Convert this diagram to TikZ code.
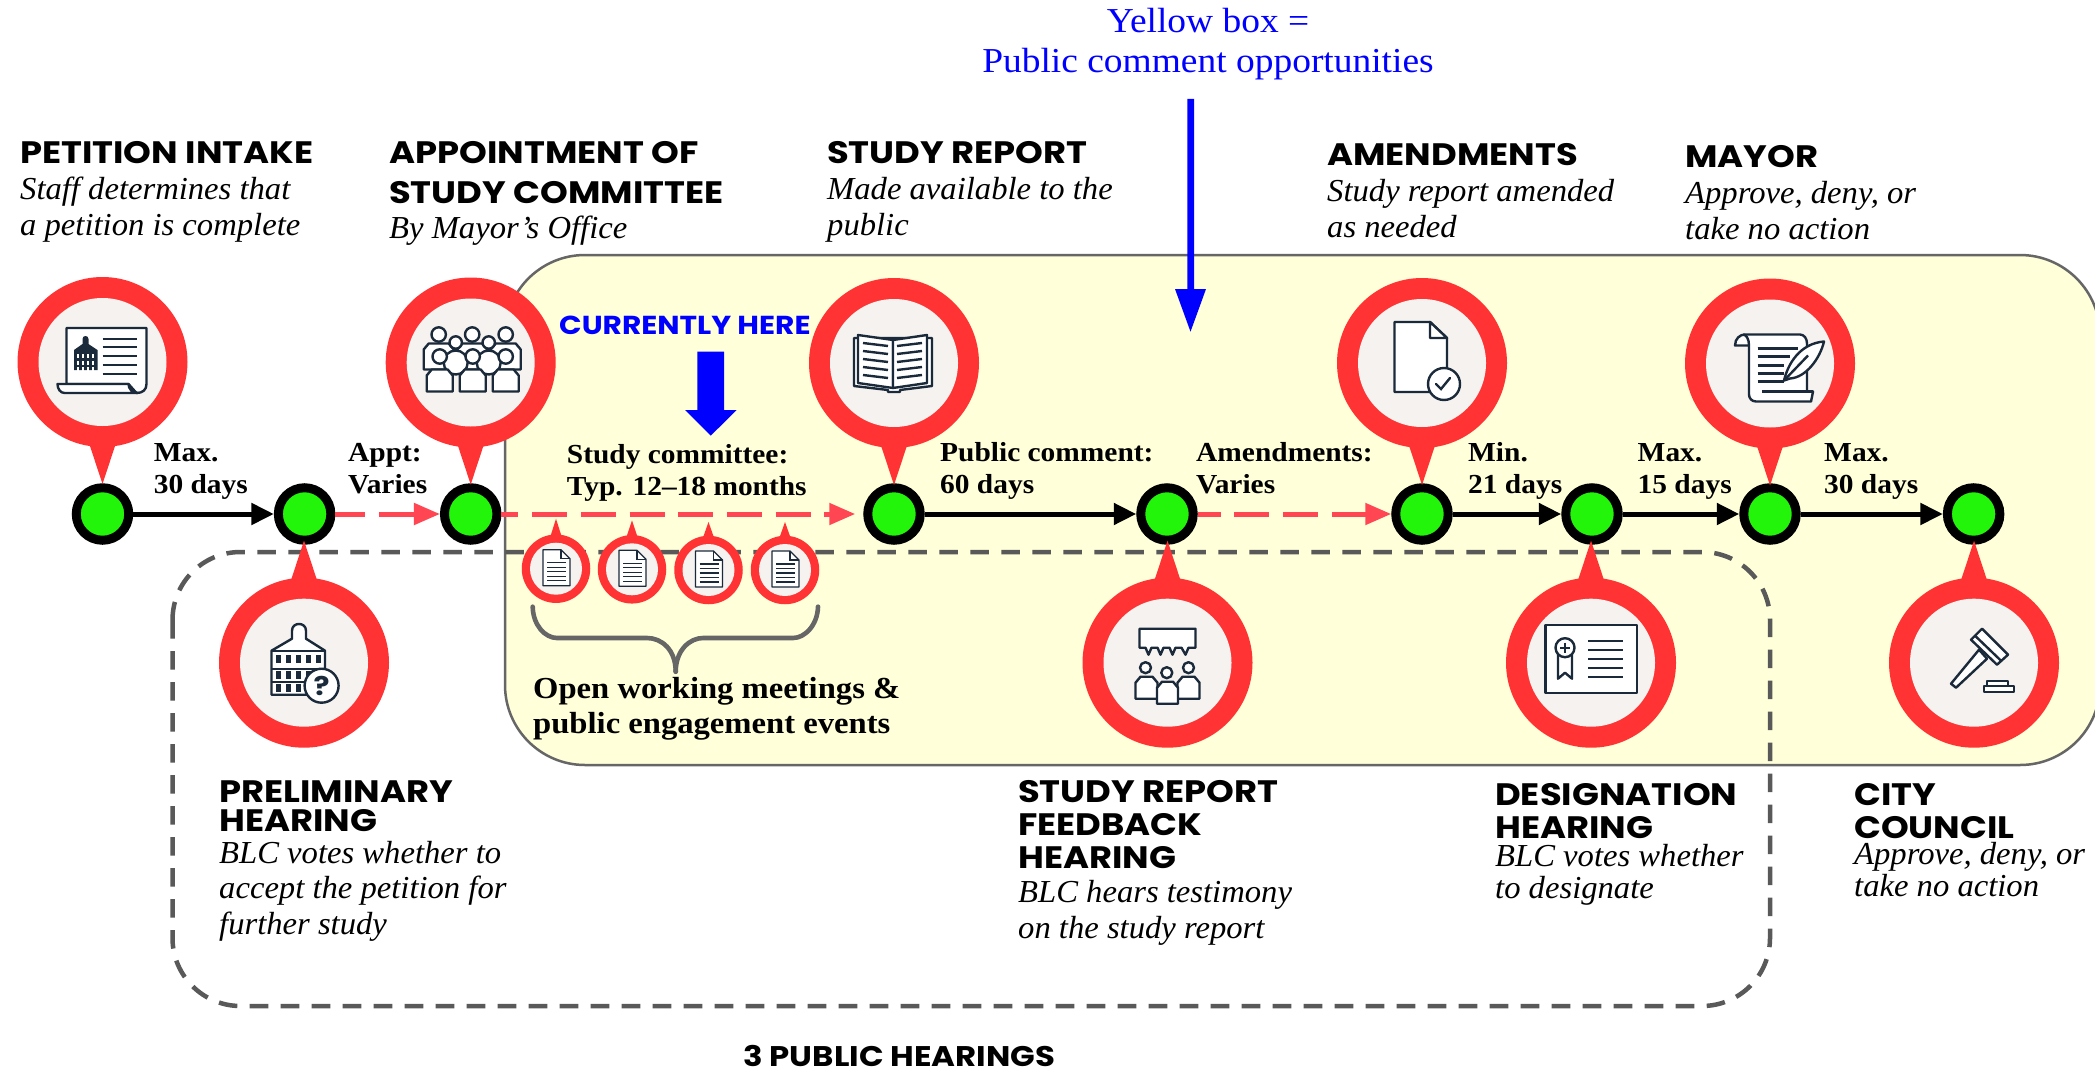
\documentclass[tikz,border=0pt]{standalone}
\usepackage{fontspec}
\usetikzlibrary{arrows.meta,calc}
\newfontfamily\srf[FakeStretch=1.02]{Liberation Serif}
\newfontfamily\srb[FakeStretch=1.07]{Liberation Serif}
\newfontfamily\hdf[FakeStretch=1.14]{Poppins}
\definecolor{pinred}{HTML}{FF3333}
\definecolor{pinin}{HTML}{F5F2EF}
\definecolor{dashred}{HTML}{FF4652}
\definecolor{nodegreen}{HTML}{22F50A}
\definecolor{yellowbg}{HTML}{FFFFDA}
\definecolor{graybd}{HTML}{666666}
\definecolor{graydash}{HTML}{595959}
\definecolor{icondark}{HTML}{1B2A3A}
\definecolor{pureblue}{HTML}{0000FF}
\tikzset{
 stage/.style={circle,draw=black,fill=nodegreen,line width=9pt,minimum size=52.5pt,inner sep=0pt},
 pinouter/.style={circle,fill=pinred,minimum size=170pt,inner sep=0pt},
 pininner/.style={circle,fill=pinin,minimum size=128pt,inner sep=0pt},
 minouter/.style={circle,fill=pinred,minimum size=68.5pt,inner sep=0pt},
 mininner/.style={circle,fill=pinin,minimum size=52pt,inner sep=0pt},
 solidarrow/.style={draw=black,line width=5pt,-{Triangle[length=22.5pt,width=21pt]}},
 redarrow/.style={draw=dashred,line width=5pt,dash pattern=on 35pt off 13.7pt,-{Triangle[length=26pt,width=21pt]}},
 ic/.style={draw=icondark,line width=2.4pt,fill=white,line join=round},
 icl/.style={draw=icondark,line width=2.4pt},
 title/.style={inner sep=0pt,anchor=base west,align=left,font=\hdf\bfseries\fontsize{31}{33}\selectfont,text=black},
 desc/.style={inner sep=0pt,anchor=base west,align=left,font=\srf\itshape\fontsize{32}{35.5}\selectfont,text=black},
 lbl/.style={inner sep=0pt,anchor=base west,align=left,font=\srb\bfseries\fontsize{27.5}{32}\selectfont,text=black},
}
\newcommand{\PinUp}[3]{\begin{scope}[shift={(#2,#3)}]
 \node[pinouter] (#1) at (0,0) {};
 \fill[pinred] (-14.5,78)--(0,122)--(14.5,78)--cycle;
 \node[pininner] (#1i) at (0,0) {};
\end{scope}}
\newcommand{\PinDown}[3]{\begin{scope}[shift={(#2,#3)}]
 \node[pinouter] (#1) at (0,0) {};
 \fill[pinred] (-14.5,-78)--(0,-122)--(14.5,-78)--cycle;
 \node[pininner] (#1i) at (0,0) {};
\end{scope}}
\newcommand{\MiniPin}[4]{\begin{scope}[shift={(#2,#3)}]
 \node[minouter] (#1) at (0,0) {};
 \fill[pinred] (-6,-31)--(0,-#4)--(6,-31)--cycle;
 \node[mininner] (#1i) at (0,0) {};
 \path[draw=icondark,line width=1.3pt,fill=white,line join=round] (-13,-19)--(5,-19)--(14,-10)--(14,17)--(-13,17)--cycle;
 \draw[icondark,line width=1.1pt] (5,-19)--(5,-10)--(14,-10);
 \foreach \yy in {-6,-1.5,3,7.5,12}{\draw[icondark,line width=1.3pt] (-9,\yy)--(10,\yy);}
\end{scope}}
\newcommand{\Person}[4]{% x,y(top of body),halfwidth,height
 \path[ic] (#1-#3,#2+#4)--(#1-#3,#2+6)--(#1-#3+5,#2)--(#1+#3-5,#2)--(#1+#3,#2+6)--(#1+#3,#2+#4)--cycle;}
\begin{document}
\begin{tikzpicture}[x=1pt,y=-1pt]
\useasboundingbox (0,0) rectangle (2095,1070);
\path[fill=white] (0,0) rectangle (2095,1070);
% yellow box (its right edge runs past the page)
\begin{scope}
\clip (0,0) rectangle (2095,1070);
\path[fill=yellowbg,draw=graybd,line width=2.5pt,rounded corners=80pt] (505,255) rectangle (2100,765);
\end{scope}
% dashed hearings box
\draw[graydash,line width=4.5pt,dash pattern=on 18.6pt off 12.4pt,rounded corners=68pt] (172.5,552) rectangle (1770,1006);
% stage nodes
\node[stage] (n1) at (102.5,514) {};
\node[stage] (n2) at (304.6,514) {};
\node[stage] (n3) at (470.7,514) {};
\node[stage] (n4) at (894,514) {};
\node[stage] (n5) at (1167,514) {};
\node[stage] (n6) at (1422,514) {};
\node[stage] (n7) at (1592,514) {};
\node[stage] (n8) at (1770,514) {};
\node[stage] (n9) at (1973.6,514) {};
% connectors
\draw[solidarrow] (n1) -- (n2);
\draw[redarrow,dash phase=5pt] (n2) -- (n3);
\draw[redarrow,dash phase=18pt,shorten >=8pt] (n3) -- (n4);
\draw[solidarrow] (n4) -- (n5);
\draw[redarrow,dash phase=12pt] (n5) -- (n6);
\draw[solidarrow] (n6) -- (n7);
\draw[solidarrow] (n7) -- (n8);
\draw[solidarrow] (n8) -- (n9);
% pins
\PinUp{p1}{102.5}{362}
\PinUp{p3}{470.7}{362.5}
\PinUp{p4}{894}{363}
\PinUp{p6}{1422}{363}
\PinUp{p8}{1770}{363.5}
\PinDown{p2}{304}{662.7}
\PinDown{p5}{1167.5}{662.7}
\PinDown{p7}{1591}{662.7}
\PinDown{p9}{1974}{662.7}
\MiniPin{m1}{556}{568.7}{50}
\MiniPin{m2}{632}{569.3}{49}
\MiniPin{m3}{708.5}{570}{48}
\MiniPin{m4}{785}{570}{48}
% icon p1: petition scroll
\begin{scope}[shift={(102.5,362)}]
 \path[ic] (-36,22)--(-36,-34)--(44,-34)--(44,22)..controls (44,28) and (40,31) .. (34,31)--(26,22)--cycle;
 \path[ic] (-45,22)--(26,22)..controls (26,27) and (30,31) .. (35,31)--(-38,31)..controls (-42,31) and (-45,27) .. (-45,22)--cycle;
 \fill[icondark] (-28.5,-12)--(-20,-18)--(-20,-23)..controls (-20,-27) and (-14,-27) .. (-14,-23)--(-14,-18)--(-5,-12)--(-5,8)--(-28.5,8)--cycle;
 \foreach \yy in {-8,-1,5}{\foreach \xx in {-26,-21,-16,-11}{\fill[white] (\xx,\yy) rectangle (\xx+2,\yy+3.5);}}
 \foreach \yy in {-23,-15,-6,3,12}{\draw[icl] (0,\yy)--(34,\yy);}
\end{scope}
% icon p3: committee
\begin{scope}[shift={(470.7,362.5)}]
 \foreach \xx in {-32,1.5,35}{\Person{\xx}{-19}{15}{26}\path[ic] (\xx,-28) circle (7.2);}
 \foreach \xx in {-15,18}{\path[draw=icondark,fill=white,line width=2.4pt] (\xx,0) circle (12);\path[ic] (\xx,-20) circle (6.2);}
 \foreach \xx in {-31,2,35}{\Person{\xx}{7}{13}{22}\path[ic] (\xx,-6) circle (7.2);}
\end{scope}
% icon p4: book
\begin{scope}[shift={(894,363)}]
 \path[ic] (-40,-25)--(-40,23)--(-6,27)--(-6,29)--(6,29)--(6,27)--(38,23)--(38,-25)--cycle;
 \path[ic] (-1,-23)--(-36,-28)--(-36,20)--(-1,25)--cycle;
 \path[ic] (-1,-23)--(33,-28)--(33,20)--(-1,25)--cycle;
 \foreach \yy in {-20,-12,-4,4,12}{\draw[icl] (-31,\yy)--(-6,\yy+3);\draw[icl] (28,\yy)--(3,\yy+3);}
\end{scope}
% icon p6: document with check
\begin{scope}[shift={(1422,363)}]
 \path[ic] (-27.5,-41)--(8,-41)--(25,-25)--(25,29)--(-27.5,29)--cycle;
 \path[ic] (8,-41)--(8,-25)--(25,-25)--cycle;
 \path[ic] (22,21) circle (16);
 \draw[icl,line cap=round] (14,21)--(19,26)--(28,15);
\end{scope}
% icon p8: scroll and quill
\begin{scope}[shift={(1770,363.5)}]
 \path[ic] (-35,-18)..controls (-35,-25) and (-30,-29) .. (-25,-29)--(30,-29)..controls (34,-29) and (37,-25) .. (37,-20)--(37,28)--(43,28)--(41,38)--(-14,38)..controls (-18,38) and (-21,35) .. (-21,31)--(-21,-18)--cycle;
 \draw[icl] (-21,-18)..controls (-21,-25) and (-24,-29) .. (-27,-29);
 \draw[icl] (-8,28)--(43,28);
 \foreach \yy in {-15,-7,2,10,18}{\draw[icl] (-12.5,\yy)--(14,\yy);}
 \draw[icl] (-12.5,-15)--(28,-15);\draw[icl] (-12.5,-7)--(20,-7);
 \path[ic] (14,17)..controls (18,0) and (30,-20) .. (54,-22)..controls (50,-5) and (36,14) .. (20,15)--cycle;
 \draw[icl] (14,17)--(38,-8);
\end{scope}
% icon p2: building with question mark
\begin{scope}[shift={(304,662.7)}]
 \path[ic] (-32.5,-12)--(-12,-24)--(-12,-32)..controls (-12,-41) and (2,-41) .. (2,-32)--(2,-24)--(21,-12)--(21,32)--(-32.5,32)--cycle;
 \draw[icl] (-32.5,-12)--(21,-12);\draw[icl] (-32.5,6)--(21,6);\draw[icl] (-32.5,19)--(21,19);
 \foreach \yy in {-8,8,21}{\foreach \xx in {-28,-18,-8,2,12}{\fill[icondark] (\xx,\yy) rectangle (\xx+4.5,\yy+8);}}
 \path[ic] (17.6,23) circle (17);
 \node[inner sep=0pt,text=icondark,font=\hdf\bfseries\fontsize{26}{26}\selectfont] (qm) at (17.6,23) {?};
\end{scope}
% icon p5: hearing
\begin{scope}[shift={(1167.5,662.7)}]
 \path[ic] (-28,-34)--(28,-34)--(28,-15)--(21,-15)--(18,-8)--(14,-15)--(8,-15)--(5,-8)--(2,-15)--(-4,-15)--(-7,-8)--(-10,-15)--(-16,-15)--(-19,-8)--(-22,-15)--(-28,-15)--cycle;
 \Person{-21}{14}{11}{22}\path[ic] (-22,5) circle (5.5);
 \Person{21}{14}{11}{22}\path[ic] (21,5) circle (5.5);
 \Person{0}{19}{10.5}{22}\path[ic] (-0.7,10) circle (5.5);
\end{scope}
% icon p7: certificate
\begin{scope}[shift={(1591,662.7)}]
 \path[ic] (-45.5,-38) rectangle (46,30);
 \path[ic] (-33,-10)--(-33,16)--(-26,10)--(-19,16)--(-19,-10)--cycle;
 \path[ic] (-26,-15) circle (9.5);
 \draw[icl] (-31,-15)--(-21,-15);\draw[icl] (-26,-20)--(-26,-10);
 \foreach \yy in {-22,-13,-4,5,14}{\draw[icl] (-3,\yy)--(32,\yy);}
\end{scope}
% icon p9: gavel
\begin{scope}[shift={(1974,662.7)}]
 \path[ic] (5,-13)--(-23,21)--(-18,25)--(13,-4)--cycle;
 \path[ic] (8,-34)--(-3,-23)--(23,2)--(34,-8)--cycle;
 \draw[icl] (1,-27)--(27,-2);
 \path[ic] (13,18) rectangle (34,23);
 \path[ic] (10,23) rectangle (40,29);
\end{scope}
% brace
\draw[graybd,line width=4.6pt,line cap=round] (532.7,606.7)..controls (533,625) and (545,638) .. (557,638)--(647,638)..controls (662,638) and (675.7,650) .. (675.7,671.7);
\draw[graybd,line width=4.6pt,line cap=round] (818,606.7)..controls (817.5,625) and (805,638) .. (793,638)--(703,638)..controls (690,638) and (675.7,650) .. (675.7,671.7);
% blue arrows
\fill[pureblue] (697.3,351.7)--(724,351.7)--(724,410)--(736.7,410)--(710.7,435.7)--(685,410)--(697.3,410)--cycle;
\fill[pureblue] (1187.3,99)--(1194,99)--(1194,289)--(1206,289)--(1190.5,331.7)--(1175,289)--(1187.3,289)--cycle;
% text
\node[inner sep=0pt,anchor=base,align=center,text=pureblue,font=\srb\fontsize{35}{40}\selectfont] (yb) at (1208,73) {Yellow box =\\Public comment opportunities};
\node[title] (t1) at (20,163) {PETITION INTAKE};
\node[desc] (d1) at (20,235) {Staff determines that\\a petition is complete};
\node[title] (t2) at (389,203) {APPOINTMENT OF\\[7pt]STUDY COMMITTEE};
\node[desc] (d2) at (389,238) {By Mayor’s Office};
\node[title] (t3) at (827,163) {STUDY REPORT};
\node[desc] (d3) at (827,235) {Made available to the\\public};
\node[title] (t4) at (1327,165) {AMENDMENTS};
\node[desc] (d4) at (1327,237) {Study report amended\\as needed};
\node[title] (t5) at (1685,167) {MAYOR};
\node[desc] (d5) at (1685,239) {Approve, deny, or\\take no action};
\node[title] (t6) at (219,831) {PRELIMINARY\\[-4pt]HEARING};
\node[desc] (d6) at (219,934) {BLC votes whether to\\accept the petition for\\further study};
\node[title] (t7) at (1018,868) {STUDY REPORT\\FEEDBACK\\HEARING};
\node[desc] (d7) at (1018,938) {BLC hears testimony\\on the study report};
\node[title] (t8) at (1495,838) {DESIGNATION\\HEARING};
\node[desc] (d8) at (1495,898) {BLC votes whether\\[-4pt]to designate};
\node[title] (t9) at (1854,838) {CITY\\COUNCIL};
\node[desc] (d9) at (1854,896) {Approve, deny, or\\[-4pt]take no action};
\node[title,font=\hdf\bfseries\fontsize{28.4}{30}\selectfont] (t10) at (743,1066) {3 PUBLIC HEARINGS};
\node[title,text=pureblue,font=\hdf\bfseries\fontsize{26}{28}\selectfont] (t11) at (559,334) {CURRENTLY HERE};
\node[lbl] (l1) at (153.6,493) {Max.\\30 days};
\node[lbl] (l2) at (348,493) {Appt:\\Varies};
\node[lbl] (l3) at (566.7,495.7) {Study committee:\\Typ. 12–18 months};
\node[lbl] (l4) at (940,493) {Public comment:\\60 days};
\node[lbl] (l5) at (1196,493) {Amendments:\\Varies};
\node[lbl] (l6) at (1468,493) {Min.\\21 days};
\node[lbl] (l7) at (1637.5,493) {Max.\\15 days};
\node[lbl] (l8) at (1824,493) {Max.\\30 days};
\node[lbl,font=\srb\bfseries\fontsize{30.5}{35}\selectfont] (l9) at (533,733) {Open working meetings \&\\public engagement events};
\end{tikzpicture}
\end{document}
